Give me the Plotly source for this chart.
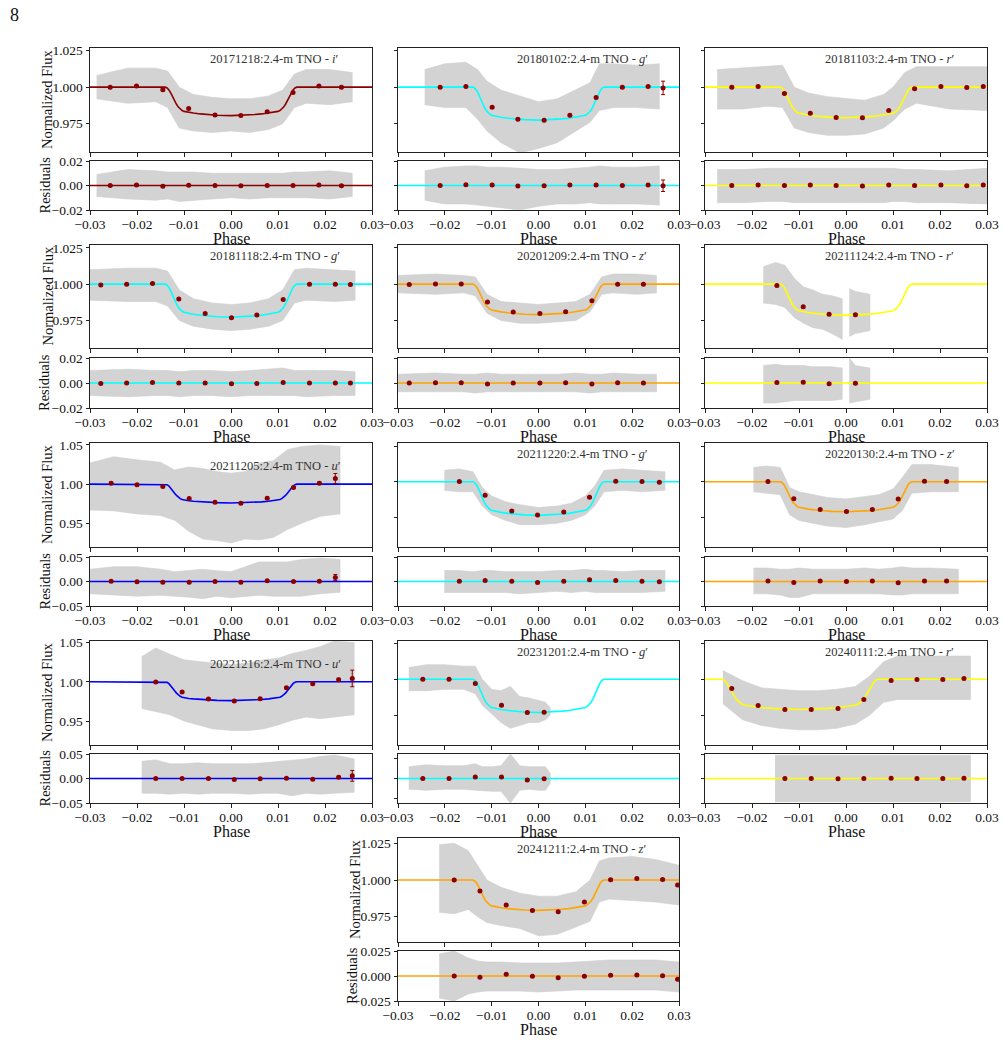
import plotly.graph_objects as go

# ---------------- data ----------------
# transit-model template (half profile) and per-panel depths
MODEL_PHASE_HALF = [-0.030, -0.0140, -0.0136, -0.0132, -0.0128, -0.0124, -0.0120, -0.0116, -0.0112,
                    -0.0108, -0.0104, -0.0100, -0.0090, -0.0080, -0.0065, -0.0050, -0.0030, 0.0]
MODEL_PROFILE_HALF = [0.0, 0.0, 0.03, 0.10, 0.21, 0.35, 0.48, 0.60, 0.70,
                      0.77, 0.82, 0.85, 0.885, 0.91, 0.94, 0.96, 0.985, 1.0]
MODEL_DEPTH = [0.0195, 0.0226, 0.0210, 0.0228, 0.0210, 0.0215, 0.0240, 0.0235, 0.0210, 0.0240, 0.0230, 0.0210, 0.0207]
MODEL_CENTER = [0.0, 0.0, 0.0, 0.0, 0.0, 0.0, 0.0, 0.0, 0.0, 0.0, 0.0, -0.0098, 0.0]
MODEL_STRETCH = [1.0, 1.0, 1.0, 1.0, 1.0, 1.0, 1.0, 1.0, 1.0, 1.0, 1.0, 1.19, 1.0]

# Panel 1: 20171218 i'
p1_bin_phase = [-0.0257, -0.0201, -0.0145, -0.0090, -0.0034, 0.0021, 0.0077, 0.0132, 0.0187, 0.0235]
p1_bin_flux = [1.0000, 1.0007, 0.9982, 0.9854, 0.9810, 0.9806, 0.9831, 0.9964, 1.0007, 1.0000]
p1_bin_err = [0.0006] * 10
p1_bin_res = [0.0000, 0.0004, -0.0006, 0.0003, 0.0000, -0.0002, 0.0001, 0.0000, 0.0004, -0.0002]
p1_res_err = [0.0006] * 10
p1_band_x = [-0.0286, -0.022, -0.016, -0.0135, -0.011, -0.008, -0.004, 0.0, 0.004, 0.008, 0.011, 0.0135, 0.016, 0.021, 0.0258]
p1_band_hi = [1.008, 1.013, 1.013, 1.011, 1.000, 0.995, 0.993, 0.992, 0.992, 0.994, 0.998, 1.009, 1.012, 1.012, 1.010]
p1_band_lo = [0.992, 0.989, 0.990, 0.986, 0.972, 0.970, 0.969, 0.970, 0.969, 0.971, 0.975, 0.986, 0.989, 0.988, 0.990]
p1_res_hi = [0.009, 0.013, 0.012, 0.011, 0.011, 0.011, 0.010, 0.010, 0.010, 0.010, 0.010, 0.011, 0.011, 0.012, 0.010]
p1_res_lo = [-0.009, -0.011, -0.012, -0.011, -0.013, -0.012, -0.011, -0.010, -0.011, -0.010, -0.010, -0.010, -0.010, -0.011, -0.009]

# Panel 2: 20180102 g'
p2_bin_phase = [-0.0210, -0.0155, -0.0099, -0.0044, 0.0012, 0.0067, 0.0123, 0.0179, 0.0234, 0.0266]
p2_bin_flux = [1.0000, 1.0005, 0.9863, 0.9781, 0.9774, 0.9808, 0.9929, 1.0000, 1.0005, 0.9995]
p2_bin_err = [0.0006, 0.0006, 0.0006, 0.0006, 0.0006, 0.0006, 0.0006, 0.0006, 0.0006, 0.0046]
p2_bin_res = [0.0000, 0.0006, 0.0005, -0.0004, -0.0003, 0.0005, 0.0004, 0.0000, 0.0004, -0.0002]
p2_res_err = [0.0006, 0.0006, 0.0006, 0.0006, 0.0006, 0.0006, 0.0006, 0.0006, 0.0006, 0.0047]
p2_band_x = [-0.0243, -0.020, -0.0155, -0.013, -0.011, -0.008, -0.004, 0.0, 0.004, 0.008, 0.011, 0.013, 0.016, 0.021, 0.0258]
p2_band_hi = [1.012, 1.016, 1.017, 1.012, 1.004, 0.998, 0.994, 0.990, 0.992, 0.998, 1.003, 1.016, 1.016, 1.015, 1.016]
p2_band_lo = [0.988, 0.986, 0.986, 0.978, 0.970, 0.962, 0.955, 0.958, 0.962, 0.970, 0.976, 0.984, 0.986, 0.986, 0.985]
p2_res_hi = [0.012, 0.015, 0.016, 0.016, 0.015, 0.015, 0.014, 0.013, 0.013, 0.014, 0.015, 0.016, 0.015, 0.015, 0.016]
p2_res_lo = [-0.012, -0.015, -0.015, -0.016, -0.017, -0.018, -0.020, -0.017, -0.015, -0.015, -0.014, -0.015, -0.015, -0.015, -0.016]

# Panel 3: 20181103 r'
p3_bin_phase = [-0.0243, -0.0187, -0.0131, -0.0076, -0.0021, 0.0035, 0.0091, 0.0146, 0.0202, 0.0257, 0.0292]
p3_bin_flux = [1.0000, 1.0005, 0.9957, 0.9822, 0.9792, 0.9790, 0.9840, 0.9989, 1.0005, 0.9998, 1.0005]
p3_bin_err = [0.0006] * 11
p3_bin_res = [0.0000, 0.0005, 0.0000, 0.0004, 0.0000, -0.0005, 0.0004, 0.0000, 0.0004, -0.0002, 0.0004]
p3_res_err = [0.0006] * 11
p3_band_x = [-0.0274, -0.022, -0.0165, -0.0135, -0.011, -0.008, -0.004, 0.0, 0.004, 0.008, 0.010, 0.0125, 0.015, 0.022, 0.030]
p3_band_hi = [1.012, 1.013, 1.014, 1.015, 1.000, 0.996, 0.9935, 0.992, 0.991, 0.995, 1.000, 1.010, 1.014, 1.014, 1.014]
p3_band_lo = [0.985, 0.985, 0.987, 0.986, 0.972, 0.969, 0.967, 0.967, 0.968, 0.972, 0.977, 0.985, 0.989, 0.985, 0.984]
p3_res_hi = [0.013, 0.013, 0.014, 0.014, 0.014, 0.014, 0.014, 0.014, 0.014, 0.014, 0.014, 0.013, 0.013, 0.012, 0.014]
p3_res_lo = [-0.014, -0.014, -0.013, -0.013, -0.014, -0.014, -0.014, -0.014, -0.014, -0.014, -0.013, -0.013, -0.014, -0.014, -0.015]

# Panel 4: 20181118 g'
p4_bin_phase = [-0.0277, -0.0222, -0.0167, -0.0111, -0.0055, 0.0001, 0.0055, 0.0111, 0.0167, 0.0222, 0.0254]
p4_bin_flux = [0.9995, 1.0000, 1.0004, 0.9897, 0.9797, 0.9769, 0.9788, 0.9895, 1.0000, 1.0000, 0.9997]
p4_bin_err = [0.0005] * 11
p4_bin_res = [-0.0003, 0.0000, 0.0005, 0.0000, 0.0000, -0.0005, -0.0003, 0.0005, 0.0000, 0.0000, 0.0000]
p4_res_err = [0.0005] * 11
p4_band_x = [-0.030, -0.022, -0.016, -0.0135, -0.011, -0.008, -0.004, 0.0, 0.004, 0.008, 0.011, 0.0135, 0.016, 0.022, 0.0264]
p4_band_hi = [1.010, 1.011, 1.011, 1.009, 0.996, 0.990, 0.987, 0.986, 0.987, 0.990, 0.996, 1.010, 1.011, 1.010, 1.009]
p4_band_lo = [0.989, 0.988, 0.988, 0.985, 0.975, 0.971, 0.969, 0.968, 0.969, 0.971, 0.975, 0.987, 0.989, 0.988, 0.989]
p4_res_hi = [0.010, 0.011, 0.010, 0.010, 0.009, 0.010, 0.010, 0.009, 0.010, 0.011, 0.012, 0.010, 0.010, 0.010, 0.009]
p4_res_lo = [-0.010, -0.011, -0.010, -0.010, -0.011, -0.010, -0.010, -0.011, -0.010, -0.010, -0.010, -0.010, -0.011, -0.010, -0.010]

# Panel 5: 20201209 z'
p5_bin_phase = [-0.0276, -0.0220, -0.0165, -0.0109, -0.0054, 0.0003, 0.0058, 0.0114, 0.0169, 0.0224]
p5_bin_flux = [0.9997, 1.0002, 1.0002, 0.9877, 0.9808, 0.9797, 0.9810, 0.9886, 1.0000, 1.0000]
p5_bin_err = [0.0004] * 10
p5_bin_res = [0.0000, 0.0003, 0.0003, -0.0007, 0.0000, 0.0000, 0.0003, -0.0007, 0.0003, 0.0000]
p5_res_err = [0.0004] * 10
p5_band_x = [-0.030, -0.022, -0.016, -0.0135, -0.011, -0.008, -0.004, 0.0, 0.004, 0.008, 0.011, 0.0135, 0.016, 0.021, 0.0252]
p5_band_hi = [1.006, 1.007, 1.006, 1.005, 0.993, 0.988, 0.987, 0.986, 0.987, 0.988, 0.993, 1.005, 1.007, 1.007, 1.006]
p5_band_lo = [0.994, 0.993, 0.994, 0.992, 0.980, 0.975, 0.973, 0.973, 0.974, 0.975, 0.981, 0.993, 0.994, 0.993, 0.994]
p5_res_hi = [0.007, 0.008, 0.007, 0.007, 0.008, 0.007, 0.007, 0.007, 0.007, 0.008, 0.007, 0.007, 0.008, 0.007, 0.007]
p5_res_lo = [-0.007, -0.007, -0.007, -0.008, -0.007, -0.007, -0.007, -0.007, -0.007, -0.007, -0.008, -0.007, -0.007, -0.007, -0.007]

# Panel 6: 20211124 r'
p6_bin_phase = [-0.0147, -0.0091, -0.0036, 0.0020]
p6_bin_flux = [0.9990, 0.9845, 0.9792, 0.9790]
p6_bin_err = [0.0007] * 4
p6_bin_res = [0.0004, 0.0007, -0.0005, -0.0002]
p6_res_err = [0.0007] * 4
p6_band_x = [-0.0176, -0.015, -0.013, -0.011, -0.009, -0.007, -0.005, -0.003, -0.0008, None, 0.0007, 0.002, 0.0035, 0.0051]
p6_band_hi = [1.012, 1.015, 1.013, 1.004, 0.998, 0.996, 0.993, 0.992, 0.990, None, 0.997, 0.995, 0.994, 0.993]
p6_band_lo = [0.987, 0.986, 0.984, 0.977, 0.973, 0.970, 0.969, 0.966, 0.962, None, 0.964, 0.966, 0.967, 0.968]
p6_res_hi = [0.014, 0.015, 0.014, 0.014, 0.014, 0.013, 0.013, 0.013, 0.012, None, 0.020, 0.014, 0.013, 0.012]
p6_res_lo = [-0.016, -0.016, -0.015, -0.014, -0.014, -0.014, -0.014, -0.014, -0.013, None, -0.016, -0.015, -0.014, -0.013]

# Panel 7: 20211205 u'
p7_bin_phase = [-0.0255, -0.0200, -0.0145, -0.0089, -0.0034, 0.0021, 0.0077, 0.0133, 0.0188, 0.0222]
p7_bin_flux = [1.0013, 0.9991, 0.9969, 0.9816, 0.9770, 0.9757, 0.9821, 0.9957, 1.0013, 1.0072]
p7_bin_err = [0.0012, 0.0012, 0.0012, 0.0012, 0.0012, 0.0012, 0.0012, 0.0012, 0.0015, 0.0064]
p7_bin_res = [0.0007, -0.0007, -0.0014, -0.0014, 0.0000, -0.0014, 0.0014, 0.0000, 0.0007, 0.0082]
p7_res_err = [0.0012, 0.0012, 0.0012, 0.0012, 0.0012, 0.0012, 0.0012, 0.0012, 0.0015, 0.0060]
p7_band_x = [-0.030, -0.025, -0.020, -0.015, -0.012, -0.009, -0.006, -0.003, 0.0, 0.003, 0.006, 0.009, 0.012, 0.015, 0.019, 0.0232]
p7_band_hi = [1.027, 1.035, 1.031, 1.028, 1.018, 1.022, 1.020, 1.016, 1.014, 1.016, 1.027, 1.030, 1.044, 1.048, 1.050, 1.048]
p7_band_lo = [0.967, 0.966, 0.962, 0.960, 0.954, 0.940, 0.930, 0.928, 0.925, 0.930, 0.929, 0.932, 0.942, 0.950, 0.959, 0.962]
p7_res_hi = [0.025, 0.030, 0.030, 0.025, 0.020, 0.022, 0.025, 0.022, 0.020, 0.030, 0.040, 0.040, 0.040, 0.045, 0.048, 0.045]
p7_res_lo = [-0.025, -0.028, -0.030, -0.028, -0.030, -0.032, -0.035, -0.030, -0.033, -0.030, -0.028, -0.030, -0.030, -0.030, -0.025, -0.022]

# Panel 8: 20211220 g'
p8_bin_phase = [-0.0169, -0.0114, -0.0057, -0.0002, 0.0054, 0.0109, 0.0165, 0.0221, 0.0258]
p8_bin_flux = [1.0002, 0.9906, 0.9796, 0.9768, 0.9789, 0.9892, 1.0004, 1.0002, 0.9997]
p8_bin_err = [0.0005] * 9
p8_bin_res = [0.0002, 0.0008, 0.0002, -0.0008, 0.0002, 0.0015, 0.0008, 0.0002, -0.0003]
p8_res_err = [0.0005] * 9
p8_band_x = [-0.0201, -0.017, -0.0140, -0.012, -0.010, -0.007, -0.004, 0.0, 0.004, 0.007, 0.010, 0.012, 0.014, 0.018, 0.022, 0.027]
p8_band_hi = [1.008, 1.009, 1.007, 0.996, 0.990, 0.986, 0.984, 0.982, 0.983, 0.985, 0.990, 0.997, 1.008, 1.009, 1.008, 1.007]
p8_band_lo = [0.994, 0.993, 0.993, 0.983, 0.977, 0.973, 0.970, 0.970, 0.971, 0.973, 0.977, 0.983, 0.993, 0.994, 0.993, 0.994]
p8_res_hi = [0.009, 0.009, 0.008, 0.009, 0.009, 0.008, 0.008, 0.008, 0.009, 0.009, 0.010, 0.009, 0.009, 0.008, 0.009, 0.009]
p8_res_lo = [-0.009, -0.009, -0.009, -0.009, -0.009, -0.009, -0.010, -0.009, -0.008, -0.009, -0.008, -0.009, -0.009, -0.009, -0.009, -0.008]

# Panel 9: 20220130 z'
p9_bin_phase = [-0.0166, -0.0111, -0.0055, 0.0001, 0.0056, 0.0111, 0.0167, 0.0214]
p9_bin_flux = [1.0002, 0.9882, 0.9807, 0.9793, 0.9807, 0.9880, 1.0004, 1.0002]
p9_bin_err = [0.0005] * 8
p9_bin_res = [0.0004, -0.0008, 0.0004, 0.0000, 0.0004, -0.0010, 0.0004, 0.0004]
p9_res_err = [0.0005] * 8
p9_band_x = [-0.0197, -0.017, -0.014, -0.012, -0.010, -0.007, -0.004, 0.0, 0.004, 0.007, 0.010, 0.012, 0.014, 0.018, 0.0239]
p9_band_hi = [1.010, 1.011, 1.010, 0.996, 0.993, 0.991, 0.989, 0.988, 0.990, 0.991, 0.995, 1.003, 1.012, 1.012, 1.010]
p9_band_lo = [0.993, 0.992, 0.991, 0.977, 0.973, 0.971, 0.969, 0.968, 0.970, 0.972, 0.974, 0.980, 0.992, 0.993, 0.993]
p9_res_hi = [0.011, 0.011, 0.010, 0.010, 0.011, 0.010, 0.010, 0.010, 0.011, 0.010, 0.011, 0.012, 0.011, 0.011, 0.010]
p9_res_lo = [-0.010, -0.010, -0.011, -0.013, -0.013, -0.010, -0.010, -0.010, -0.010, -0.010, -0.011, -0.011, -0.010, -0.010, -0.010]

# Panel 10: 20221216 u'
p10_bin_phase = [-0.0160, -0.0104, -0.0048, 0.0007, 0.0062, 0.0118, 0.0174, 0.0229, 0.0258]
p10_bin_flux = [0.9996, 0.9869, 0.9779, 0.9754, 0.9783, 0.9923, 0.9974, 1.0026, 1.0043]
p10_bin_err = [0.0012, 0.0012, 0.0012, 0.0012, 0.0012, 0.0012, 0.0012, 0.0020, 0.0106]
p10_bin_res = [0.0000, 0.0000, 0.0000, -0.0020, -0.0003, 0.0004, -0.0016, 0.0027, 0.0054]
p10_res_err = [0.0012, 0.0012, 0.0012, 0.0012, 0.0012, 0.0012, 0.0012, 0.0020, 0.0110]
p10_band_x = [-0.019, -0.016, -0.013, -0.010, -0.007, -0.004, 0.0, 0.004, 0.007, 0.010, 0.013, 0.016, 0.019, 0.022, 0.0262]
p10_band_hi = [1.032, 1.043, 1.035, 1.028, 1.026, 1.024, 1.022, 1.024, 1.028, 1.030, 1.036, 1.040, 1.045, 1.052, 1.050]
p10_band_lo = [0.966, 0.962, 0.958, 0.950, 0.945, 0.940, 0.938, 0.938, 0.940, 0.945, 0.951, 0.955, 0.953, 0.955, 0.958]
p10_res_hi = [0.035, 0.038, 0.030, 0.030, 0.032, 0.030, 0.030, 0.030, 0.032, 0.035, 0.038, 0.040, 0.045, 0.048, 0.040]
p10_res_lo = [-0.030, -0.030, -0.032, -0.030, -0.032, -0.030, -0.030, -0.032, -0.030, -0.030, -0.035, -0.030, -0.032, -0.030, -0.028]

# Panel 11: 20231201 g'
p11_bin_phase = [-0.0247, -0.0191, -0.0135, -0.0079, -0.0024, 0.0012]
p11_bin_flux = [1.0000, 1.0000, 0.9970, 0.9820, 0.9769, 0.9771]
p11_bin_err = [0.0006] * 6
p11_bin_res = [0.0000, 0.0000, 0.0015, 0.0015, -0.0015, -0.0003]
p11_res_err = [0.0006] * 6
p11_band_x = [-0.0277, -0.024, -0.020, -0.016, -0.0135, -0.012, -0.010, -0.008, -0.006, -0.004, -0.002, 0.0, 0.0015, 0.0025]
p11_band_hi = [1.008, 1.010, 1.010, 1.009, 1.009, 1.000, 0.993, 0.992, 0.995, 0.988, 0.987, 0.985, 0.984, 0.980]
p11_band_lo = [0.992, 0.992, 0.993, 0.993, 0.990, 0.982, 0.976, 0.970, 0.966, 0.968, 0.970, 0.970, 0.972, 0.975]
p11_res_hi = [0.012, 0.014, 0.013, 0.013, 0.015, 0.012, 0.012, 0.013, 0.025, 0.013, 0.012, 0.012, 0.012, 0.005]
p11_res_lo = [-0.011, -0.012, -0.011, -0.011, -0.012, -0.012, -0.013, -0.013, -0.025, -0.012, -0.011, -0.012, -0.012, -0.005]

# Panel 12: 20240111 r'
p12_bin_phase = [-0.0243, -0.0187, -0.0130, -0.0074, -0.0017, 0.0038, 0.0096, 0.0151, 0.0206, 0.0251]
p12_bin_flux = [0.9936, 0.9818, 0.9790, 0.9790, 0.9797, 0.9860, 0.9991, 0.9998, 0.9998, 1.0005]
p12_bin_err = [0.0006] * 10
p12_res_phase = [-0.0130, -0.0074, -0.0017, 0.0038, 0.0096, 0.0151, 0.0206, 0.0251]
p12_bin_res = [0.0000, 0.0000, -0.0003, 0.0000, 0.0003, 0.0000, 0.0000, 0.0003]
p12_res_err = [0.0006] * 8
p12_band_x = [-0.0262, -0.022, -0.018, -0.014, -0.010, -0.006, -0.002, 0.002, 0.005, 0.008, 0.011, 0.015, 0.020, 0.0265]
p12_band_hi = [1.006, 0.999, 0.994, 0.993, 0.992, 0.992, 0.993, 0.995, 1.002, 1.012, 1.016, 1.016, 1.016, 1.016]
p12_band_lo = [0.983, 0.972, 0.968, 0.966, 0.965, 0.965, 0.966, 0.969, 0.975, 0.984, 0.986, 0.986, 0.986, 0.986]
p12_res_x = [-0.0151, -0.010, -0.005, 0.0, 0.005, 0.010, 0.015, 0.020, 0.0265]
p12_res_hi = [0.019, 0.019, 0.019, 0.019, 0.019, 0.019, 0.019, 0.019, 0.019]
p12_res_lo = [-0.019, -0.019, -0.019, -0.019, -0.019, -0.019, -0.019, -0.019, -0.019]

# Panel 13: 20241211 z'
p13_bin_phase = [-0.0180, -0.0125, -0.0069, -0.0013, 0.0042, 0.0098, 0.0154, 0.0210, 0.0265, 0.0297]
p13_bin_flux = [1.0000, 0.9925, 0.9830, 0.9793, 0.9784, 0.9850, 1.0002, 1.0011, 1.0004, 0.9966]
p13_bin_err = [0.0006] * 10
p13_bin_res = [0.0000, -0.0013, 0.0017, -0.0003, -0.0017, -0.0003, 0.0007, 0.0010, 0.0003, -0.0033]
p13_res_err = [0.0006] * 10
p13_band_x = [-0.0212, -0.018, -0.015, -0.013, -0.011, -0.008, -0.004, 0.0, 0.004, 0.008, 0.011, 0.013, 0.015, 0.020, 0.025, 0.030]
p13_band_hi = [1.024, 1.025, 1.020, 1.010, 1.000, 0.995, 0.991, 0.989, 0.989, 0.992, 1.000, 1.013, 1.015, 1.016, 1.014, 1.010]
p13_band_lo = [0.978, 0.977, 0.980, 0.975, 0.971, 0.969, 0.967, 0.962, 0.963, 0.968, 0.972, 0.985, 0.987, 0.986, 0.985, 0.983]
p13_res_hi = [0.022, 0.025, 0.018, 0.015, 0.014, 0.014, 0.013, 0.013, 0.013, 0.014, 0.015, 0.015, 0.016, 0.016, 0.016, 0.014]
p13_res_lo = [-0.022, -0.025, -0.018, -0.016, -0.015, -0.015, -0.015, -0.016, -0.015, -0.014, -0.014, -0.014, -0.014, -0.014, -0.014, -0.016]

TITLES = ["20171218", "20180102", "20181103", "20181118", "20201209", "20211124",
          "20211205", "20211220", "20220130", "20221216", "20231201", "20240111", "20241211"]
FILTERS = ["i", "g", "r", "g", "z", "r", "u", "g", "z", "u", "g", "r", "z"]

X_TICKS = [-0.03, -0.02, -0.01, 0.0, 0.01, 0.02, 0.03]
X_TICKTEXT = ["\u22120.03", "\u22120.02", "\u22120.01", "0.00", "0.01", "0.02", "0.03"]

# ---------------- styling / layout ----------------
W, H = 1004, 1058
FILTER_COLOR = {"i": "#8B0000", "g": "#00FFFF", "r": "#FFFF00", "z": "#FFA500", "u": "#0000FF"}
BIN_COLOR = "#8B0000"
BAND_COLOR = "#D3D3D3"
FONT = "Liberation Serif, DejaVu Serif, serif"

COL_PIX = [(90, 372), (398, 679), (705, 987)]
ROW_PIX = [(48, 152, 161, 210), (245, 348, 358, 408), (443, 547, 557, 606),
           (641, 745, 754, 803), (838, 942, 951, 1001)]
POS = [(0, 0), (0, 1), (0, 2), (1, 0), (1, 1), (1, 2), (2, 0), (2, 1), (2, 2),
       (3, 0), (3, 1), (3, 2), (4, 1)]

FLUX_RANGE = [(0.9556, 1.0268)] * 3 + [(0.956, 1.027)] * 3 + [(0.9198, 1.0525), (0.9544, 1.0271), (0.9544, 1.0271),
              (0.9194, 1.052), (0.9545, 1.0264), (0.9545, 1.0264), (0.9578, 1.0286)]
RES_RANGE = [0.02] * 6 + [0.05, 0.02, 0.02, 0.05, 0.025, 0.02, 0.025]


def ticks_for(k):
    if FLUX_RANGE[k][0] < 0.93:
        ft = ([0.95, 1.0, 1.05], ["0.95", "1.00", "1.05"])
    else:
        ft = ([0.975, 1.0, 1.025], ["0.975", "1.000", "1.025"])
    r = RES_RANGE[k]
    if r == 0.05:
        rt = ([-0.05, 0.0, 0.05], ["\u22120.05", "0.00", "0.05"])
    elif r == 0.025 and k == 12:
        rt = ([-0.025, 0.0, 0.025], ["\u22120.025", "0.000", "0.025"])
    else:
        rt = ([-0.02, 0.0, 0.02], ["\u22120.02", "0.00", "0.02"])
    return ft, rt


def band_poly(xs, his, los):
    segs, cur = [], ([], [], [])
    for x, h, l in zip(xs, his, los):
        if x is None:
            if cur[0]:
                segs.append(cur)
            cur = ([], [], [])
            continue
        cur[0].append(x); cur[1].append(h); cur[2].append(l)
    if cur[0]:
        segs.append(cur)
    px, py = [], []
    for sx, sh, sl in segs:
        px += sx + sx[::-1] + [None]
        py += sh + sl[::-1] + [None]
    return px, py


def model_curve(k):
    half_x = MODEL_PHASE_HALF
    full_x = half_x + [-p for p in half_x[-2::-1]]
    full_f = MODEL_PROFILE_HALF + MODEL_PROFILE_HALF[-2::-1]
    xs = []
    for p in full_x:
        if abs(p) >= 0.03:
            xs.append(p)
        else:
            xs.append(MODEL_CENTER[k] + MODEL_STRETCH[k] * p)
    ys = [1.0 - MODEL_DEPTH[k] * f for f in full_f]
    return xs, ys


G = globals()

fig = go.Figure()
layout = dict(template="none", width=W, height=H, autosize=False,
              margin=dict(l=0, r=0, t=0, b=0, pad=0), showlegend=False,
              paper_bgcolor="white", plot_bgcolor="white",
              font=dict(family=FONT, size=13.5, color="#111"))
annotations = []


def px2x(p):
    return p / W


def px2y(p):
    return 1 - p / H


for k in range(13):
    n = k + 1
    row, col = POS[k]
    x0, x1 = COL_PIX[col]
    ft, ff_b, rt, rb = ROW_PIX[row]
    color = FILTER_COLOR[FILTERS[k]]
    fa, ra = 2 * k + 1, 2 * k + 2
    fx, fy = ("x" if fa == 1 else f"x{fa}"), ("y" if fa == 1 else f"y{fa}")
    rx, ry = f"x{ra}", f"y{ra}"

    mx, my = model_curve(k)
    bin_phase = G[f"p{n}_bin_phase"]
    res_phase = G.get(f"p{n}_res_phase", bin_phase)
    res_x = G.get(f"p{n}_res_x", G[f"p{n}_band_x"])

    # flux panel
    bx, by = band_poly(G[f"p{n}_band_x"], G[f"p{n}_band_hi"], G[f"p{n}_band_lo"])
    fig.add_trace(go.Scatter(x=bx, y=by, fill="toself", fillcolor=BAND_COLOR, mode="lines",
                             line=dict(width=0.6, color="#CFCFCF"), xaxis=fx, yaxis=fy, hoverinfo="skip"))
    fig.add_trace(go.Scatter(x=mx, y=my, mode="lines",
                             line=dict(color=color, width=1.6),
                             xaxis=fx, yaxis=fy))
    fig.add_trace(go.Scatter(x=bin_phase, y=G[f"p{n}_bin_flux"], mode="markers",
                             marker=dict(color=BIN_COLOR, size=5),
                             error_y=dict(type="data", array=G[f"p{n}_bin_err"], color=BIN_COLOR,
                                          thickness=1, width=2),
                             xaxis=fx, yaxis=fy))
    # residual panel
    rbx, rby = band_poly(res_x, G[f"p{n}_res_hi"], G[f"p{n}_res_lo"])
    fig.add_trace(go.Scatter(x=rbx, y=rby, fill="toself", fillcolor=BAND_COLOR, mode="lines",
                             line=dict(width=0.6, color="#CFCFCF"), xaxis=rx, yaxis=ry, hoverinfo="skip"))
    fig.add_trace(go.Scatter(x=[-0.03, 0.03], y=[0.0, 0.0], mode="lines",
                             line=dict(color=color, width=1.6), xaxis=rx, yaxis=ry))
    fig.add_trace(go.Scatter(x=res_phase, y=G[f"p{n}_bin_res"], mode="markers",
                             marker=dict(color=BIN_COLOR, size=5),
                             error_y=dict(type="data", array=G[f"p{n}_res_err"], color=BIN_COLOR,
                                          thickness=1, width=2),
                             xaxis=rx, yaxis=ry))

    (fvals, ftext), (rvals, rtext) = ticks_for(k)
    show_y = (col == 0) or k == 12
    common = dict(showline=True, mirror=True, linecolor="#222", linewidth=1, ticks="outside",
                  ticklen=3.5, tickwidth=0.9, tickcolor="#222", showgrid=False, zeroline=False,
                  automargin=False, tickfont=dict(family=FONT, size=13.5, color="#111"))
    xdom = [px2x(x0), px2x(x1)]
    layout[f"xaxis{fa}" if fa > 1 else "xaxis"] = dict(
        domain=xdom, anchor=fy, range=[-0.03, 0.03], tickvals=X_TICKS, ticktext=X_TICKTEXT,
        showticklabels=False, **common)
    layout[f"yaxis{fa}" if fa > 1 else "yaxis"] = dict(
        domain=[px2y(ff_b), px2y(ft)], anchor=fx, range=list(FLUX_RANGE[k]),
        tickvals=fvals, ticktext=ftext, showticklabels=show_y, **common)
    layout[f"xaxis{ra}"] = dict(
        domain=xdom, anchor=ry, range=[-0.03, 0.03], tickvals=X_TICKS, ticktext=X_TICKTEXT,
        showticklabels=True, ticklabelstandoff=-2, **common)
    layout[f"yaxis{ra}"] = dict(
        domain=[px2y(rb), px2y(rt)], anchor=rx, range=[-RES_RANGE[k], RES_RANGE[k]],
        tickvals=rvals, ticktext=rtext, showticklabels=show_y, **common)

    # panel label
    ty = ft + (23 if FILTERS[k] == "u" else 11)
    annotations.append(dict(x=px2x(x0 + 0.418 * (x1 - x0)), y=px2y(ty), xref="paper", yref="paper",
                            xanchor="left", yanchor="middle", showarrow=False,
                            text=f"{TITLES[k]}:2.4-m TNO - <i>{FILTERS[k]}</i>\u2032",
                            font=dict(family=FONT, size=12.5, color="#333")))
    # Phase label
    annotations.append(dict(x=px2x((x0 + x1) / 2), y=px2y(rb + 28.5), xref="paper", yref="paper",
                            xanchor="center", yanchor="middle", showarrow=False, text="Phase",
                            font=dict(family=FONT, size=16, color="#111")))
    if show_y:
        lx = 47 if col == 0 else 355
        annotations.append(dict(x=px2x(lx), y=px2y((ft + ff_b) / 2), xref="paper", yref="paper",
                                xanchor="center", yanchor="middle", showarrow=False, textangle=-90,
                                text="Normalized Flux", font=dict(family=FONT, size=14.5, color="#111")))
        annotations.append(dict(x=px2x(lx - 3), y=px2y((rt + rb) / 2), xref="paper", yref="paper",
                                xanchor="center", yanchor="middle", showarrow=False, textangle=-90,
                                text="Residuals", font=dict(family=FONT, size=14.5, color="#111")))

annotations.append(dict(x=px2x(14), y=px2y(15), xref="paper", yref="paper", xanchor="center",
                        yanchor="middle", showarrow=False, text="8",
                        font=dict(family=FONT, size=18, color="#111")))
layout["annotations"] = annotations
fig.update_layout(**layout)
fig.write_html("out.html")
